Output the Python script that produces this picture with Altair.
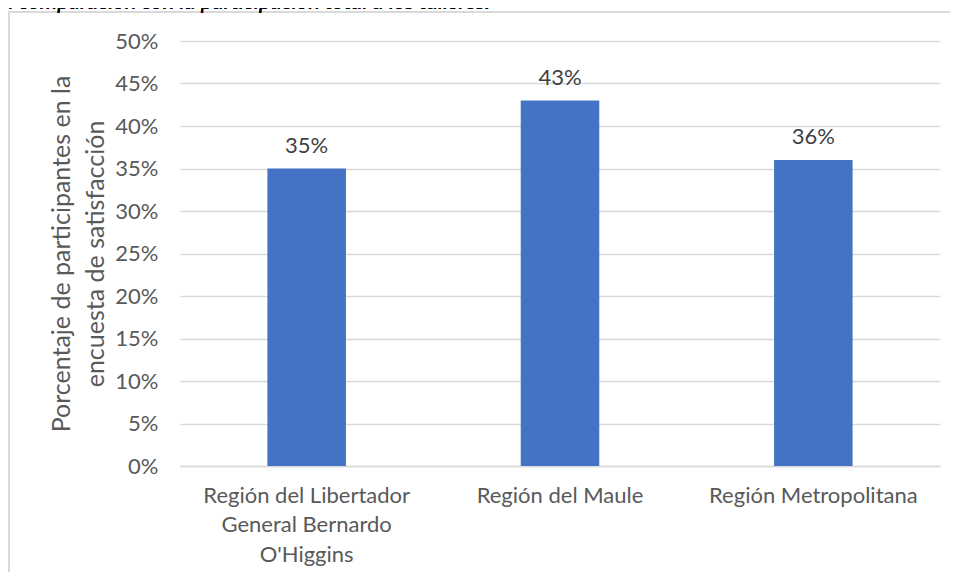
import altair as alt
import pandas as pd

regions = ["Región del Libertador\nGeneral Bernardo\nO'Higgins", "Región del Maule", "Región Metropolitana"]
values = [0.35, 0.43, 0.36]
y_ticks = [0, 0.05, 0.10, 0.15, 0.20, 0.25, 0.30, 0.35, 0.40, 0.45, 0.50]
y_title = ["Porcentaje de participantes en la", "encuesta de satisfacción"]
top_text = "Distribución de respuestas a la encuesta de satisfacción en comparación con la participación total a los talleres."

df = pd.DataFrame({"region": regions, "value": values})

FONT = "Lato"
GRAY = "#595959"

x = alt.X("region:N", sort=regions, title=None,
          scale=alt.Scale(paddingInner=0.69, paddingOuter=0.345),
          axis=alt.Axis(labelExpr="split(datum.label, '\\n')", labelAngle=0,
                        labelFontSize=22, labelColor=GRAY, labelFont=FONT,
                        labelLineHeight=29.5, labelPadding=19, labelBaseline="top",
                        ticks=False, domain=True, domainColor="#d9d9d9", domainWidth=1.5,
                        labelLimit=400))
y = alt.Y("value:Q", title=y_title,
          scale=alt.Scale(domain=[0, 0.5], nice=False),
          axis=alt.Axis(values=y_ticks, format=".0%", labelFontSize=22, labelColor=GRAY,
                        labelFont=FONT, labelPadding=22, ticks=False, domain=False,
                        grid=True, gridColor="#d9d9d9", gridWidth=1.5,
                        titleFontSize=25, titleFont=FONT, titleColor=GRAY,
                        titleFontWeight="normal", titleLineHeight=34, titlePadding=6))

base = alt.Chart(df)

border = base.mark_rect(filled=False, stroke="#d9d9d9", strokeWidth=1.5).encode(
    x=alt.value(-171), x2=alt.value(900), y=alt.value(-29), y2=alt.value(700))

caption = base.mark_text(font=FONT, fontSize=22, fontStyle="italic", color="#000000",
                         align="right", baseline="alphabetic").encode(
    x=alt.value(310), y=alt.value(-32), text=alt.value(top_text))

bars = base.mark_bar(color="#4472C4").encode(x=x, y=y)
labels = base.mark_text(font=FONT, fontSize=22, color="#404040", dy=-16,
                        baseline="alphabetic").encode(
    x=alt.X("region:N", sort=regions), y="value:Q", text=alt.Text("value:Q", format=".0%"))

chart = alt.layer(border, bars, labels, caption).properties(
    width=760, height=425,
    autosize=alt.AutoSizeParams(type="none"),
    padding={"left": 172, "top": 33, "right": 10, "bottom": 106},
).configure_view(stroke=None)

chart.save("out.html", embed_options={"renderer": "svg", "actions": False})
